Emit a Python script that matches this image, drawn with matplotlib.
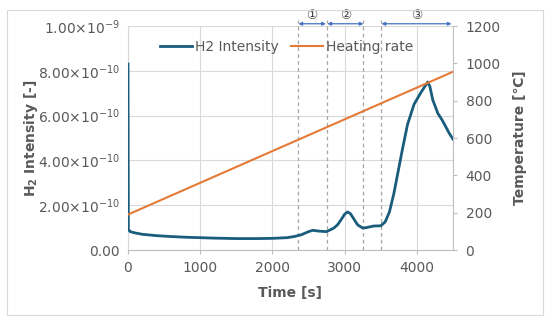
import matplotlib
matplotlib.use("Agg")
import matplotlib.pyplot as plt
from matplotlib.patches import Rectangle
from matplotlib.ticker import FuncFormatter

plt.rcParams['font.family'] = ['DejaVu Sans', 'Noto Sans CJK JP']
plt.rcParams['mathtext.fontset'] = 'dejavusans'

# H2 intensity (x1e-10)
time_s = [0, 5, 30, 100, 200, 400, 600, 800, 1000, 1200, 1500, 1800, 2000,
          2200, 2300, 2400, 2500, 2560, 2650, 2750, 2850, 2900, 2950, 3000,
          3040, 3080, 3120, 3180, 3250, 3300, 3400, 3500, 3560, 3620, 3680,
          3740, 3800, 3870, 3960, 4050, 4100, 4150, 4180, 4220, 4290, 4350,
          4400, 4450, 4500]
h2_e10 = [8.3, 0.92, 0.82, 0.76, 0.70, 0.64, 0.60, 0.57, 0.55, 0.53, 0.51,
          0.51, 0.52, 0.55, 0.60, 0.68, 0.82, 0.88, 0.84, 0.82, 0.98, 1.12,
          1.35, 1.60, 1.70, 1.62, 1.42, 1.12, 0.98, 1.00, 1.07, 1.08, 1.25,
          1.70, 2.50, 3.50, 4.50, 5.60, 6.50, 7.00, 7.25, 7.50, 7.30, 6.70,
          6.10, 5.80, 5.50, 5.20, 4.95]

# heating rate (temperature) line
heat_t = [0, 4500]
heat_temp = [190, 955]

# stage markers
stage_lines = [2360, 2750, 3260, 3500]
stages = [("\u2460", 2360, 2740), ("\u2461", 2760, 3260), ("\u2462", 3510, 4480)]

c_h2 = '#1a5c7c'
c_heat = '#e57a36'
c_txt = '#595959'
c_grid = '#d9d9d9'

fig = plt.figure(figsize=(5.5, 3.24), dpi=100)
fig.patches.append(Rectangle((7/550, 1-315/324), 536/550, 305/324,
                             transform=fig.transFigure, fill=False,
                             edgecolor='#d9d9d9', lw=0.8))
ax = fig.add_axes([128/550, 1-250/324, 325/550, 224/324])
ax2 = ax.twinx()

ax.plot(time_s, [v*1e-10 for v in h2_e10], color=c_h2, lw=2,
        label="H2 Intensity", zorder=3)
ax2.plot(heat_t, heat_temp, color=c_heat, lw=1.5, label="Heating rate")
ax.plot([], [], color=c_heat, lw=1.5, label="Heating rate")

ax.set_xlim(0, 4500)
ax.set_ylim(0, 1e-9)
ax2.set_ylim(0, 1200)
ax.set_xticks([0, 1000, 2000, 3000, 4000])
ax.set_yticks([0, 2e-10, 4e-10, 6e-10, 8e-10, 1e-9])
ax2.set_yticks(range(0, 1201, 200))


def sci_fmt(v, pos):
    if v == 0:
        return "0.00"
    exp = 0
    m = v
    while m < 1 - 1e-9:
        m *= 10
        exp -= 1
    return r"$\mathregular{%.2f{\times}10^{%d}}$" % (m, exp)


ax.yaxis.set_major_formatter(FuncFormatter(sci_fmt))
ax.grid(True, color=c_grid, lw=0.8)
ax.set_axisbelow(True)

for a in (ax, ax2):
    for s in a.spines.values():
        s.set_visible(False)
ax.spines['left'].set_visible(True)
ax.spines['left'].set_color(c_grid)
ax.spines['bottom'].set_visible(True)
ax.spines['bottom'].set_color('#bfbfbf')
ax2.spines['right'].set_visible(True)
ax2.spines['right'].set_color('#bfbfbf')

ax.tick_params(axis='y', length=0, labelsize=10, labelcolor=c_txt, pad=6)
ax.tick_params(axis='x', length=3, color='#bfbfbf', labelsize=10,
               labelcolor=c_txt, pad=5)
ax2.tick_params(axis='y', length=3, color='#bfbfbf', labelsize=10,
                labelcolor=c_txt, pad=6)

ax.set_xlabel("Time [s]", fontsize=10, fontweight='bold', color=c_txt,
              labelpad=8)
ax.set_ylabel(r"H$_\mathregular{2}$ Intensity [-]", fontsize=10,
              fontweight='bold', color=c_txt)
ax.yaxis.set_label_coords(-0.272, 0.5)
ax2.set_ylabel("Temperature [\u2103]", fontsize=10, fontweight='bold',
               color=c_txt)
ax2.yaxis.set_label_coords(1.185, 0.5)

tr = ax.get_xaxis_transform()
for x in stage_lines:
    ax.plot([x, x], [0, 1.025], transform=tr, color='#a6a6a6', lw=0.9,
            ls=(0, (3, 2.5)), clip_on=False, zorder=2)
for lab, x0, x1 in stages:
    ax.annotate("", xy=(x1, 1.01), xytext=(x0, 1.01), xycoords=tr,
                textcoords=tr,
                arrowprops=dict(arrowstyle='<|-|>', color='#4472c4', lw=0.9,
                                mutation_scale=5, shrinkA=0, shrinkB=0))
    ax.text((x0 + x1) / 2, 1.045, lab, transform=tr, ha='center',
            va='center', fontsize=9, color='#404040')

ax.legend(loc='upper left', bbox_to_anchor=(0.06, 0.995), ncol=2,
          frameon=False, fontsize=10, handlelength=2.3, handletextpad=0.2,
          columnspacing=0.9, labelcolor=c_txt)

fig.savefig("out.png", dpi=100)
